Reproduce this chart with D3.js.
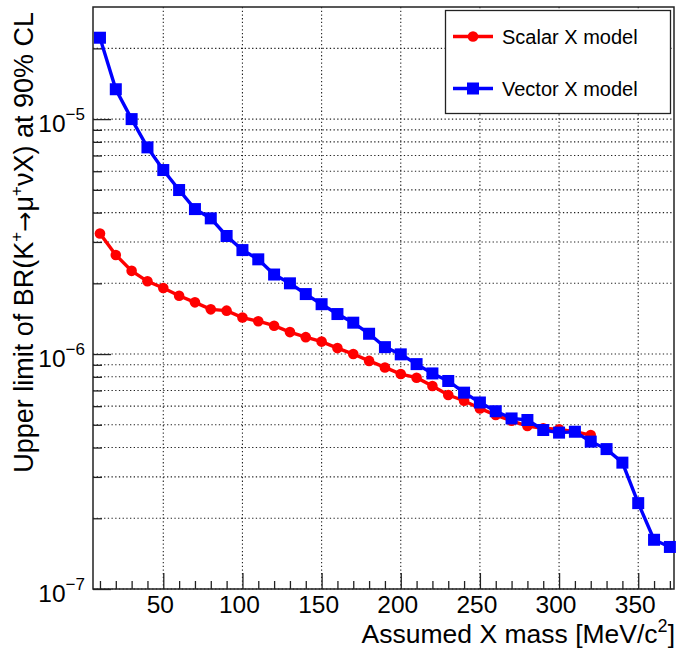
<!DOCTYPE html>
<html>
<head>
<meta charset="utf-8">
<script src="https://cdn.jsdelivr.net/npm/d3@7"></script>
<style>
  body { margin: 0; background: #fff; }
  svg text { font-family: "Liberation Sans", Arial, Helvetica, sans-serif; fill: #000; }
</style>
</head>
<body>
<div id="chart"></div>
<script>
// masses in MeV/c^2
var scalarMass = [10,20,30,40,50,60,70,80,90,100,110,120,130,140,150,160,170,180,190,200,210,220,230,240,250,260,270,280,290,300,310,320];
var scalarBR = [3.26e-6,2.64e-6,2.26e-6,2.04e-6,1.91e-6,1.77e-6,1.66e-6,1.55e-6,1.53e-6,1.43e-6,1.38e-6,1.32e-6,1.24e-6,1.18e-6,1.13e-6,1.06e-6,1.00e-6,9.35e-7,8.77e-7,8.22e-7,7.93e-7,7.31e-7,6.69e-7,6.33e-7,5.87e-7,5.50e-7,5.20e-7,4.94e-7,4.83e-7,4.78e-7,4.67e-7,4.52e-7];

var vectorMass = [10,20,30,40,50,60,70,80,90,100,110,120,130,140,150,160,170,180,190,200,210,220,230,240,250,260,270,280,290,300,310,320,330,340,350,360,370];
var vectorBR = [2.22e-5,1.34e-5,1.0e-5,7.58e-6,6.07e-6,4.99e-6,4.14e-6,3.78e-6,3.18e-6,2.77e-6,2.53e-6,2.18e-6,2.0e-6,1.80e-6,1.63e-6,1.48e-6,1.36e-6,1.22e-6,1.07e-6,9.97e-7,9.06e-7,8.27e-7,7.68e-7,6.85e-7,6.22e-7,5.71e-7,5.32e-7,5.24e-7,4.75e-7,4.63e-7,4.67e-7,4.24e-7,3.94e-7,3.45e-7,2.32e-7,1.62e-7,1.51e-7];

var xMajor = [50,100,150,200,250,300,350];
var xMinor = [10,20,30,40,60,70,80,90,110,120,130,140,160,170,180,190,210,220,230,240,260,270,280,290,310,320,330,340,360,370];
var yMajor = [1e-7,1e-6,1e-5];
var yMajorExp = ["\u22127","\u22126","\u22125"];
var yMinor = [2e-7,3e-7,4e-7,5e-7,6e-7,7e-7,8e-7,9e-7,2e-6,3e-6,4e-6,5e-6,6e-6,7e-6,8e-6,9e-6,2e-5];

var legendLabels = ["Scalar X model","Vector X model"];

function init(){
    var w = 676, h = 651;
    var fLeft = 93, fRight = 674, fTop = 7, fBottom = 589;

    var svg = d3.select("#chart").append("svg")
        .attr("width", w).attr("height", h);

    var x = d3.scaleLinear().domain([5.6, 372.6]).range([fLeft, fRight]);
    var y = d3.scaleLog().domain([1e-7, 3e-5]).range([fBottom, fTop]);

    //grid (dotted), at major x ticks and every y tick
    var grid = svg.append("g");
    grid.selectAll(".gx").data(xMajor).enter().append("line")
        .attr("x1", function(d){ return x(d); }).attr("x2", function(d){ return x(d); })
        .attr("y1", fTop).attr("y2", fBottom)
        .attr("stroke", "#222").attr("stroke-width", 1.1).attr("stroke-dasharray", "1.3,2.4");
    grid.selectAll(".gy").data(yMajor.concat(yMinor)).enter().append("line")
        .attr("x1", fLeft).attr("x2", fRight)
        .attr("y1", function(d){ return y(d); }).attr("y2", function(d){ return y(d); })
        .attr("stroke", "#222").attr("stroke-width", 1.1).attr("stroke-dasharray", "1.3,2.4");

    // axes with inward ticks
    var xAxisMajor = d3.axisBottom(x).tickValues(xMajor).tickSize(-16).tickFormat("");
    var xAxisMinor = d3.axisBottom(x).tickValues(xMinor).tickSize(-8).tickFormat("");
    var yAxisMajor = d3.axisLeft(y).tickValues(yMajor).tickSize(-18).tickFormat("");
    var yAxisMinor = d3.axisLeft(y).tickValues(yMinor).tickSize(-9).tickFormat("");

    function styleAxis(g){
        g.select(".domain").remove();
        g.selectAll(".tick line").attr("stroke", "#222").attr("stroke-width", 1.3);
    }
    svg.append("g").attr("transform", "translate(0," + fBottom + ")").call(xAxisMajor).call(styleAxis);
    svg.append("g").attr("transform", "translate(0," + fBottom + ")").call(xAxisMinor).call(styleAxis);
    svg.append("g").attr("transform", "translate(" + fLeft + ",0)").call(yAxisMajor).call(styleAxis);
    svg.append("g").attr("transform", "translate(" + fLeft + ",0)").call(yAxisMinor).call(styleAxis);

    // frame
    svg.append("rect")
        .attr("x", fLeft).attr("y", fTop)
        .attr("width", fRight - fLeft).attr("height", fBottom - fTop)
        .attr("fill", "none").attr("stroke", "#222").attr("stroke-width", 1.5);

    // tick labels
    svg.selectAll(".xl").data(xMajor).enter().append("text")
        .attr("x", function(d){ return x(d) - 3; })
        .attr("y", 613)
        .attr("text-anchor", "middle")
        .attr("font-size", 24.5)
        .text(function(d){ return d; });

    var yl = svg.selectAll(".yl").data(yMajor).enter().append("text")
        .attr("x", 85)
        .attr("y", function(d){ return y(d) + 13; })
        .attr("text-anchor", "end")
        .attr("font-size", 24.5);
    yl.append("tspan").text("10");
    yl.append("tspan").attr("dy", -12).attr("font-size", 17)
        .text(function(d, i){ return yMajorExp[i]; });

    // axis titles
    var xt = svg.append("text")
        .attr("x", 675).attr("y", 643)
        .attr("text-anchor", "end")
        .attr("font-size", 26.5);
    xt.append("tspan").text("Assumed X mass [MeV/c");
    xt.append("tspan").attr("dy", -11).attr("font-size", 18).text("2");
    xt.append("tspan").attr("dy", 11).text("]");

    var yt = svg.append("text")
        .attr("transform", "translate(33,12) rotate(-90)")
        .attr("text-anchor", "end")
        .attr("font-size", 27);
    yt.append("tspan").text("Upper limit of BR(K");
    yt.append("tspan").attr("dy", -11).attr("font-size", 17).text("+");
    yt.append("tspan").attr("dy", 11).attr("font-family", "DejaVu Sans").attr("font-size", 24).text("\u2192");
    yt.append("tspan").text("\u03bc");
    yt.append("tspan").attr("dy", -11).attr("font-size", 17).text("+");
    yt.append("tspan").attr("dy", 11).text("\u03bdX) at 90% CL");

    // series
    var line = d3.line()
        .x(function(d){ return x(d[0]); })
        .y(function(d){ return y(d[1]); });

    var scalarPts = d3.zip(scalarMass, scalarBR);
    var vectorPts = d3.zip(vectorMass, vectorBR);

    svg.append("path").datum(scalarPts)
        .attr("d", line).attr("fill", "none")
        .attr("stroke", "#ff0000").attr("stroke-width", 3.4);
    svg.selectAll(".sc").data(scalarPts).enter().append("circle")
        .attr("cx", function(d){ return x(d[0]); })
        .attr("cy", function(d){ return y(d[1]); })
        .attr("r", 5.3).attr("fill", "#ff0000");

    svg.append("path").datum(vectorPts)
        .attr("d", line).attr("fill", "none")
        .attr("stroke", "#0000ff").attr("stroke-width", 3.4);
    svg.selectAll(".vc").data(vectorPts).enter().append("rect")
        .attr("x", function(d){ return x(d[0]) - 6; })
        .attr("y", function(d){ return y(d[1]) - 6; })
        .attr("width", 12).attr("height", 12)
        .attr("fill", "#0000ff");

    // legend
    var lg = svg.append("g");
    lg.append("rect")
        .attr("x", 445.5).attr("y", 10.5).attr("width", 225).attr("height", 103)
        .attr("fill", "#fff").attr("stroke", "#222").attr("stroke-width", 1.3);

    var legendColors = ["#ff0000", "#0000ff"];
    var legendY = [36.5, 88.5];
    legendLabels.forEach(function(lab, i){
        lg.append("line")
            .attr("x1", 453).attr("x2", 493)
            .attr("y1", legendY[i]).attr("y2", legendY[i])
            .attr("stroke", legendColors[i]).attr("stroke-width", 3.4);
        if (i == 0) {
            lg.append("circle").attr("cx", 473).attr("cy", legendY[i]).attr("r", 5.3).attr("fill", legendColors[i]);
        } else {
            lg.append("rect").attr("x", 467).attr("y", legendY[i] - 6)
                .attr("width", 12).attr("height", 12).attr("fill", legendColors[i]);
        }
        lg.append("text")
            .attr("x", 502).attr("y", legendY[i] + 7)
            .attr("font-size", 20)
            .text(lab);
    });
}
window.onload = init;
</script>
</body>
</html>
